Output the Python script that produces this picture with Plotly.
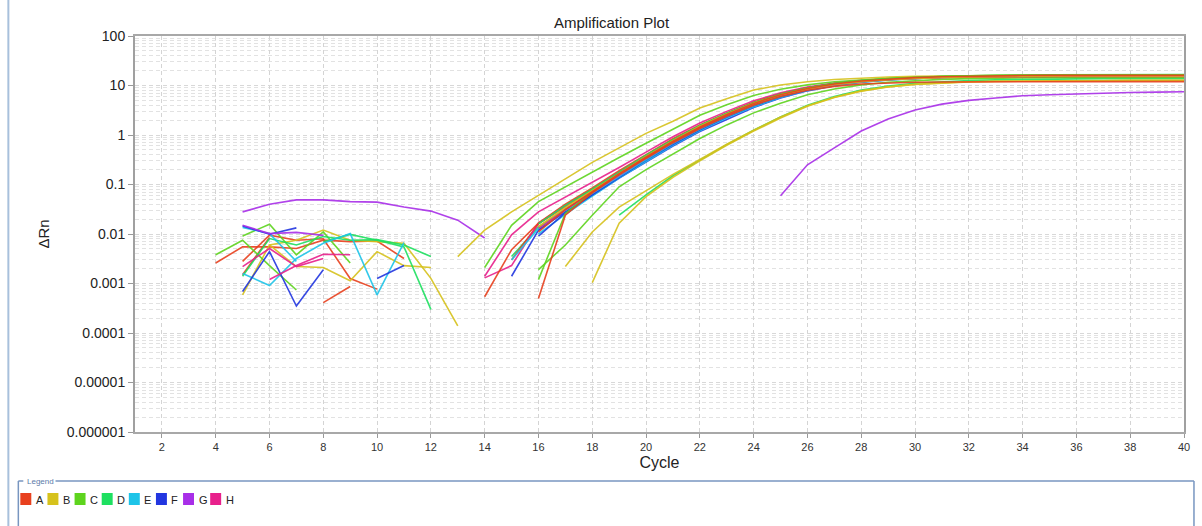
import plotly.graph_objects as go

# ---------------------------------------------------------------------------
# ΔRn per cycle. Each series: (first cycle, values for consecutive cycles)
# ---------------------------------------------------------------------------

# baseline fragments (cycles 4-14)
A_b1 = (4, [0.0026, 0.0055, 0.0055, 0.0051, 0.0075, 0.007, 0.0072, 0.0032])
A_b2 = (5, [0.0028, 0.0095, 0.0075, 0.008, 0.00126, 0.00077])
A_b3 = (8, [0.00041, 0.00087])
A_b4 = (5, [0.0015, 0.0085])
B_b1 = (5, [0.00059, 0.006, 0.0075, 0.012, 0.0075, 0.007, 0.0065, 0.00127, 0.000139])
B_b2 = (6, [0.006, 0.0022, 0.0021, 0.00114, 0.0044, 0.0023, 0.0021])
C_b1 = (4, [0.0038, 0.0075, 0.0023, 0.00074])
C_b2 = (5, [0.0091, 0.0158, 0.0038, 0.011, 0.0026])
D_b1 = (5, [0.0014, 0.0081, 0.006, 0.0089, 0.0075, 0.0077, 0.006, 0.0035])
D_b2 = (8, [0.007, 0.0098, 0.0075, 0.0055, 0.0003])
E_b1 = (5, [0.0016, 0.00091, 0.0032, 0.0065, 0.0102, 0.00059, 0.0067])
E_b2 = (5, [0.0136, 0.0102, 0.0028])
F_b1 = (5, [0.00069, 0.0044, 0.00035, 0.0019])
F_b2 = (5, [0.0145, 0.0099, 0.0133])
F_b3 = (10, [0.00126, 0.0023])
G_b1 = (5, [0.028, 0.04, 0.049, 0.049, 0.045, 0.044, 0.035, 0.029, 0.019, 0.0083])
G_b2 = (5, [0.015, 0.0102, 0.0108, 0.0094])
H_b1 = (5, [0.0022, 0.0051, 0.0022, 0.0032])
H_b2 = (6, [0.0012, 0.0023, 0.0039, 0.0038])

# amplification curves
A_1 = (15, [0.003, 0.016, 0.036, 0.078, 0.17, 0.37, 0.78, 1.5, 2.7, 4.5, 6.6, 8.8, 10.8, 12.3,
            13.4, 14.2, 14.8, 15.2, 15.5, 15.7, 15.8, 15.9, 16.0, 16.0, 16.0, 16.0])
A_2 = (14, [0.00054, 0.0048, 0.0166, 0.04, 0.085, 0.19, 0.4, 0.84, 1.6, 2.8, 4.6, 6.8, 9.0,
            10.9, 12.3, 13.3, 14.0, 14.5, 14.8, 15.0, 15.1, 15.2, 15.2, 15.3, 15.3, 15.3, 15.3])
A_3 = (16, [0.0005, 0.024, 0.068, 0.16, 0.34, 0.7, 1.35, 2.4, 4.0, 6.0, 8.0, 9.6, 10.7, 11.3,
            11.6, 11.8, 11.9, 11.9, 12.0, 12.0, 12.0, 12.0, 12.0, 12.0, 12.0])
A_4 = (16, [0.011, 0.031, 0.072, 0.165, 0.36, 0.75, 1.45, 2.6, 4.35, 6.5, 8.7, 10.7, 12.3, 13.5,
            14.4, 15.0, 15.4, 15.7, 15.9, 16.0, 16.1, 16.1, 16.1, 16.1, 16.1])
B_1 = (13, [0.0035, 0.012, 0.028, 0.06, 0.13, 0.28, 0.55, 1.08, 1.9, 3.5, 5.4, 8.1, 10.2, 11.9,
            13.2, 14.2, 14.9, 15.4, 15.7, 15.9, 16.0, 16.1, 16.1, 16.2, 16.2, 16.2, 16.2, 16.2])
B_2 = (17, [0.0022, 0.011, 0.035, 0.075, 0.16, 0.32, 0.65, 1.25, 2.3, 3.9, 5.8, 7.8, 9.4, 10.6,
            11.4, 11.9, 12.2, 12.4, 12.5, 12.6, 12.6, 12.7, 12.7, 12.7])
B_3 = (18, [0.00104, 0.0166, 0.057, 0.14, 0.3, 0.62, 1.2, 2.2, 3.8, 5.7, 7.7, 9.3, 10.5, 11.3,
            11.8, 12.1, 12.3, 12.4, 12.5, 12.5, 12.6, 12.6, 12.6])
B_4 = (16, [0.014, 0.034, 0.075, 0.17, 0.37, 0.77, 1.5, 2.65, 4.4, 6.5, 8.6, 10.5, 12.0, 13.1,
            13.9, 14.5, 14.9, 15.2, 15.4, 15.5, 15.6, 15.6, 15.6, 15.6, 15.6])
C_1 = (14, [0.0021, 0.015, 0.045, 0.09, 0.18, 0.35, 0.68, 1.3, 2.5, 4.1, 6.3, 8.4, 10.3, 11.9,
            13.1, 14.0, 14.6, 15.0, 15.3, 15.5, 15.6, 15.7, 15.7, 15.7, 15.7, 15.7, 15.7])
C_2 = (16, [0.0019, 0.006, 0.024, 0.09, 0.2, 0.42, 0.85, 1.6, 2.8, 4.4, 6.5, 8.5, 10.3, 11.6,
            12.6, 13.3, 13.8, 14.1, 14.3, 14.4, 14.5, 14.5, 14.6, 14.6, 14.6])
C_3 = (16, [0.0012, 0.026, 0.07, 0.16, 0.35, 0.74, 1.45, 2.6, 4.3, 6.4, 8.7, 10.8, 12.5, 13.8,
            14.7, 15.3, 15.7, 16.0, 16.2, 16.3, 16.4, 16.4, 16.4, 16.4, 16.4])
D_1 = (15, [0.0035, 0.014, 0.032, 0.068, 0.155, 0.33, 0.7, 1.36, 2.45, 4.1, 6.2, 8.5, 10.6, 12.3,
            13.6, 14.6, 15.3, 15.8, 16.1, 16.3, 16.4, 16.5, 16.6, 16.6, 16.6, 16.6])
D_2 = (19, [0.024, 0.062, 0.15, 0.31, 0.64, 1.25, 2.3, 4.0, 6.0, 8.1, 9.8, 11.1, 12.0, 12.6,
            13.0, 13.3, 13.5, 13.6, 13.7, 13.7, 13.8, 13.8])
D_3 = (16, [0.016, 0.038, 0.08, 0.18, 0.39, 0.8, 1.55, 2.75, 4.5, 6.7, 8.9, 10.9, 12.5, 13.7,
            14.5, 15.1, 15.5, 15.8, 16.0, 16.1, 16.1, 16.1, 16.1, 16.1, 16.1])
E_1 = (16, [0.01, 0.025, 0.058, 0.135, 0.29, 0.62, 1.22, 2.2, 3.7, 5.7, 7.9, 10.0, 11.7, 13.0,
            13.9, 14.5, 14.9, 15.1, 15.2, 15.3, 15.3, 15.3, 15.3, 15.3, 15.3])
E_2 = (15, [0.003, 0.013, 0.03, 0.066, 0.15, 0.32, 0.68, 1.32, 2.35, 3.95, 6.0, 8.2, 10.3, 11.9,
            13.1, 14.0, 14.6, 15.0, 15.2, 15.3, 15.4, 15.4, 15.4, 15.4, 15.4, 15.4])
F_1 = (15, [0.0014, 0.012, 0.028, 0.06, 0.135, 0.29, 0.6, 1.18, 2.1, 3.6, 5.6, 7.8, 9.9, 11.7,
            13.0, 14.0, 14.7, 15.1, 15.4, 15.6, 15.7, 15.8, 15.8, 15.8, 15.8, 15.8])
F_2 = (16, [0.009, 0.027, 0.062, 0.14, 0.31, 0.65, 1.28, 2.3, 3.9, 5.9, 8.1, 10.2, 11.9, 13.2,
            14.1, 14.7, 15.1, 15.3, 15.4, 15.5, 15.5, 15.5, 15.5, 15.5, 15.5])
G_1 = (16, [0.012, 0.03, 0.067, 0.15, 0.33, 0.7, 1.37, 2.45, 4.1, 6.2, 8.4, 10.4, 12.0, 13.2,
            14.1, 14.7, 15.1, 15.3, 15.4, 15.5, 15.5, 15.5, 15.5, 15.5, 15.5])
G_2 = (25, [0.059, 0.25, 0.55, 1.2, 2.1, 3.2, 4.2, 5.0, 5.6, 6.2, 6.5, 6.8, 7.0, 7.2, 7.35, 7.5])
H_1 = (14, [0.0014, 0.0096, 0.028, 0.055, 0.11, 0.22, 0.45, 0.92, 1.75, 3.0, 4.9, 7.1, 9.3, 11.2,
            12.7, 13.8, 14.6, 15.1, 15.4, 15.6, 15.7, 15.8, 15.8, 15.8, 15.8, 15.8, 15.8])
H_2 = (14, [0.0013, 0.0023, 0.0166, 0.038, 0.08, 0.18, 0.38, 0.8, 1.55, 2.7, 4.4, 6.5, 8.7, 10.7,
            12.2, 13.4, 14.2, 14.8, 15.2, 15.4, 15.5, 15.6, 15.6, 15.6, 15.6, 15.6, 15.6])
H_3 = (16, [0.013, 0.031, 0.069, 0.155, 0.34, 0.71, 1.38, 2.48, 4.15, 6.25, 8.4, 10.4, 12.0, 13.2,
            14.0, 14.6, 15.0, 15.2, 15.3, 15.4, 15.4, 15.4, 15.4, 15.4, 15.4])

ROWS = ["A", "B", "C", "D", "E", "F", "G", "H"]
ROW_COLORS = ["#e8401e", "#d6c21c", "#5ed41e", "#1ee060", "#1ec4e8", "#2236e0", "#a82ee8", "#e8208c"]

Y_TICKS = [1e-6, 1e-5, 1e-4, 1e-3, 1e-2, 1e-1, 1, 10, 100]
Y_TICK_TEXT = ["0.000001", "0.00001", "0.0001", "0.001", "0.01", "0.1", "1", "10", "100"]
X_TICKS = list(range(2, 41, 2))

baseline_by_row = {
    "A": [A_b1, A_b2, A_b3, A_b4], "B": [B_b1, B_b2], "C": [C_b1, C_b2], "D": [D_b1, D_b2],
    "E": [E_b1, E_b2], "F": [F_b1, F_b2, F_b3], "G": [G_b1, G_b2], "H": [H_b1, H_b2],
}
curves_by_row = {
    "A": [A_1, A_2, A_3, A_4], "B": [B_1, B_2, B_3, B_4], "C": [C_1, C_2, C_3],
    "D": [D_1, D_2, D_3], "E": [E_1, E_2], "F": [F_1, F_2], "G": [G_1, G_2],
    "H": [H_1, H_2, H_3],
}
color_of = dict(zip(ROWS, ROW_COLORS))

# baseline fragments first, then the amplification curves in a round-robin
# over the rows so that no single colour sits on top of the whole bundle
draw_list = [(row, s) for row in ROWS for s in baseline_by_row[row]]
depth = max(len(v) for v in curves_by_row.values())
for k in range(depth):
    for row in reversed(ROWS):
        if k < len(curves_by_row[row]):
            draw_list.append((row, curves_by_row[row][k]))

fig = go.Figure()
for row, (first, vals) in draw_list:
    fig.add_trace(go.Scatter(
        x=list(range(first, first + len(vals))), y=vals, mode="lines",
        line=dict(color=color_of[row], width=1.6), opacity=0.9,
        showlegend=False, hoverinfo="skip",
    ))

# ---------------------------------------------------------------------------
# layout
# ---------------------------------------------------------------------------
W, H = 1202, 526
L, R, T, B = 135, 15, 36, 94
PW, PH = W - L - R, H - T - B


def px(x):
    return (x - L) / PW


def py(y):
    return (H - B - y) / PH


minor_y = [m * 10.0 ** e for e in range(-6, 2) for m in range(2, 10)]
FONT = "Liberation Sans, Arial, sans-serif"
GRID_DASH = "4px,3px"

fig.update_layout(
    width=W, height=H,
    margin=dict(l=L, r=R, t=T, b=B, pad=0),
    paper_bgcolor="white", plot_bgcolor="white",
    font=dict(family=FONT, color="#222"),
    showlegend=False,
    xaxis=dict(
        range=[1, 40], tickvals=X_TICKS, ticktext=[str(v) for v in X_TICKS],
        tickfont=dict(size=11, color="#333"),
        ticks="outside", ticklen=4, tickcolor="#999",
        showline=True, linecolor="#a8a8a8", linewidth=1.5, mirror=True,
        showgrid=True, gridcolor="#d4d4d4", griddash=GRID_DASH, gridwidth=1,
        zeroline=False,
        title=dict(text="Cycle", font=dict(size=16, color="#222"), standoff=5),
    ),
    yaxis=dict(
        type="log", range=[-6, 2], tickvals=Y_TICKS, ticktext=Y_TICK_TEXT,
        tickfont=dict(size=14, color="#222"),
        ticks="outside", ticklen=5, tickcolor="#999",
        showline=True, linecolor="#a0a0a0", linewidth=2, mirror=True,
        showgrid=True, gridcolor="#d8d8d8", griddash=GRID_DASH, gridwidth=1,
        minor=dict(tickvals=minor_y, showgrid=True, gridcolor="#e2e2e2",
                   griddash=GRID_DASH, gridwidth=1, ticks=""),
        zeroline=False,
        title=dict(text="ΔRn", font=dict(size=15, color="#222"), standoff=14),
    ),
)

annotations = [
    dict(text="Amplification Plot", x=px(613), y=py(22), xref="paper", yref="paper",
         showarrow=False, font=dict(size=15, color="#222"), xanchor="center", yanchor="middle"),
    dict(text="Legend", x=px(25), y=py(481), xref="paper", yref="paper",
         showarrow=False, font=dict(size=8, color="#5a7aa8"), xanchor="left", yanchor="middle",
         bgcolor="white"),
]
shapes = [
    # page edge rule on the left
    dict(type="line", xref="paper", yref="paper", x0=px(8), x1=px(8), y0=py(0), y1=py(526),
         line=dict(color="#a8c0dc", width=2)),
    # legend frame
    dict(type="line", xref="paper", yref="paper", x0=px(18), x1=px(23), y0=py(481), y1=py(481),
         line=dict(color="#7896c0", width=1.5)),
    dict(type="line", xref="paper", yref="paper", x0=px(44), x1=px(1197), y0=py(481), y1=py(481),
         line=dict(color="#7896c0", width=1.5)),
    dict(type="line", xref="paper", yref="paper", x0=px(18), x1=px(18), y0=py(481), y1=py(530),
         line=dict(color="#7896c0", width=1.5)),
    dict(type="line", xref="paper", yref="paper", x0=px(1197), x1=px(1197), y0=py(481), y1=py(530),
         line=dict(color="#7896c0", width=1.5)),
]
for i, row in enumerate(ROWS):
    x0 = 20 + i * 27.2
    shapes.append(dict(type="rect", xref="paper", yref="paper",
                       x0=px(x0), x1=px(x0 + 11), y0=py(493), y1=py(505),
                       fillcolor=color_of[row], line=dict(width=0)))
    annotations.append(dict(text=row, x=px(x0 + 13.5), y=py(499.5), xref="paper", yref="paper",
                            showarrow=False, font=dict(size=11, color="#222"),
                            xanchor="left", yanchor="middle"))

fig.update_layout(annotations=annotations, shapes=shapes)
fig.write_html("out.html")
